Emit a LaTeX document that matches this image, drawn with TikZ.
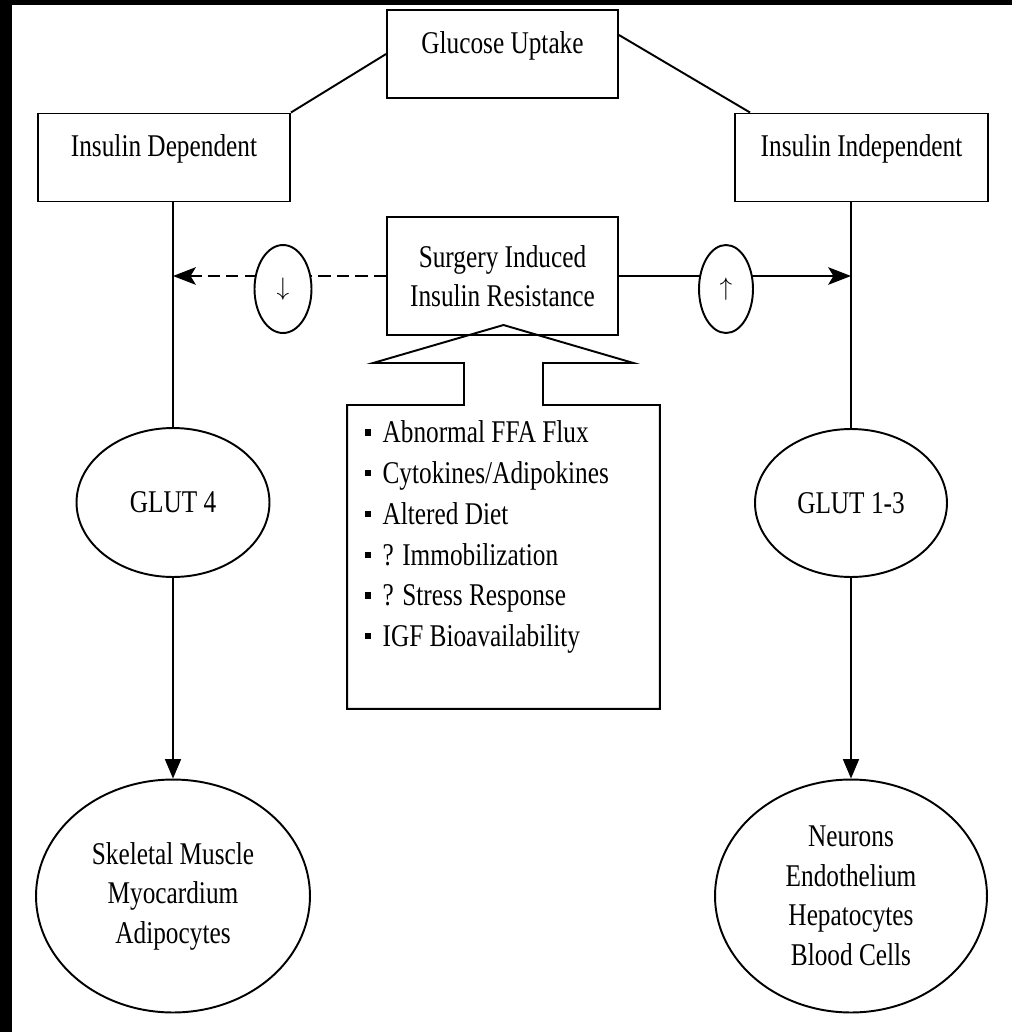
\documentclass[tikz,border=0pt]{standalone}
\usepackage{fontspec}
\setmainfont{Liberation Serif}[FakeStretch=0.8]
\usetikzlibrary{arrows.meta,shapes.geometric,calc}
\newcommand{\sqbul}{\rule[4.2pt]{3.5pt}{3.5pt}\hspace{6.5pt}}

\begin{document}
\begin{tikzpicture}[x=0.02cm, y=-0.02cm, line width=1.1pt,
    every node/.style={font=\fontsize{18pt}{22.5pt}\selectfont},
    catbox/.style={draw, inner sep=0pt, text height=24.5pt, text depth=25.6pt},
    oval/.style={draw, ellipse, inner sep=0pt, fill=white, align=center},
    flow/.style={-{Triangle[length=11pt,width=9pt]}},
    side/.style={-{Stealth[length=13pt,width=10pt,inset=3pt]}}]
  \useasboundingbox (0,0) rectangle (1012,1032);
  \fill[black] (0,0) rectangle (1012,1032);
  \fill[white] (12,5) rectangle (1012,1032);

  \node[catbox, minimum width=4.62cm] (glucose) at (502.5,54) {Glucose Uptake};
  \node[catbox, minimum width=5.04cm] (dep) at (164,157.5) {Insulin Dependent};
  \node[catbox, minimum width=5.06cm] (indep) at (861.5,157.5) {Insulin Independent};
  \node[draw, align=center, minimum width=4.62cm, minimum height=2.36cm]
    (surgery) at (502.5,276) {Surgery Induced\\Insulin Resistance};
  \node[oval, minimum width=3.86cm, minimum height=2.98cm] (glut4) at (173,502.5) {GLUT 4};
  \node[oval, minimum width=3.84cm, minimum height=2.96cm] (glut13) at (851,503) {GLUT 1-3};
  \node[oval, minimum width=5.48cm, minimum height=4.66cm] (muscle) at (173,896)
    {Skeletal Muscle\\Myocardium\\Adipocytes};
  \node[oval, minimum width=5.44cm, minimum height=4.66cm] (cells) at (851,896)
    {Neurons\\Endothelium\\Hepatocytes\\Blood Cells};
  \node[inner xsep=0.34cm, inner ysep=0.3cm, anchor=north, minimum width=6.22cm]
    (factors) at (503.5,405) {\begin{minipage}[t][5.44cm][t]{5.54cm}
      \raggedright\fontsize{18pt}{23.2pt}\selectfont
      \sqbul Abnormal FFA Flux\\
      \sqbul Cytokines/Adipokines\\
      \sqbul Altered Diet\\
      \sqbul ? Immobilization\\
      \sqbul ? Stress Response\\
      \sqbul IGF Bioavailability
    \end{minipage}};

  \draw (glucose.west) -- (dep.north east);
  \draw ([yshift=0.38cm]glucose.east) -- ([xshift=0.32cm]indep.north west);
  \draw (glut4.north |- dep.south) -- (glut4.north);
  \draw (glut13.north |- indep.south) -- (glut13.north);
  \draw[flow] (glut4.south) -- (muscle.north);
  \draw[flow] (glut13.south) -- (cells.north);

  \coordinate (lmeet) at (glut4.north |- surgery.west);
  \coordinate (rmeet) at (glut13.north |- surgery.east);
  \draw[side, dash pattern=on 7pt off 3.5pt] (surgery.west) -- (lmeet);
  \draw[side] (surgery.east) -- (rmeet);
  \node[oval, minimum width=1.14cm, minimum height=1.76cm] (less) at (283,289)
    {\fontsize{14pt}{15pt}\selectfont$\downarrow$};
  \node[oval, minimum width=1.08cm, minimum height=1.76cm] (more) at (726,289)
    {\fontsize{14pt}{15pt}\selectfont$\uparrow$};

  \draw ($(factors.north)+(-0.79cm,0cm)$) -- (factors.north west) -- (factors.south west)
    -- (factors.south east) -- (factors.north east) -- ($(factors.north)+(0.79cm,0cm)$)
    -- ++(0cm,0.84cm) -- ++(1.81cm,0cm) -- ($(factors.north)+(0cm,1.6cm)$)
    -- ($(factors.north)+(-2.61cm,0.84cm)$) -- ++(1.82cm,0cm) -- cycle;
\end{tikzpicture}
\end{document}
